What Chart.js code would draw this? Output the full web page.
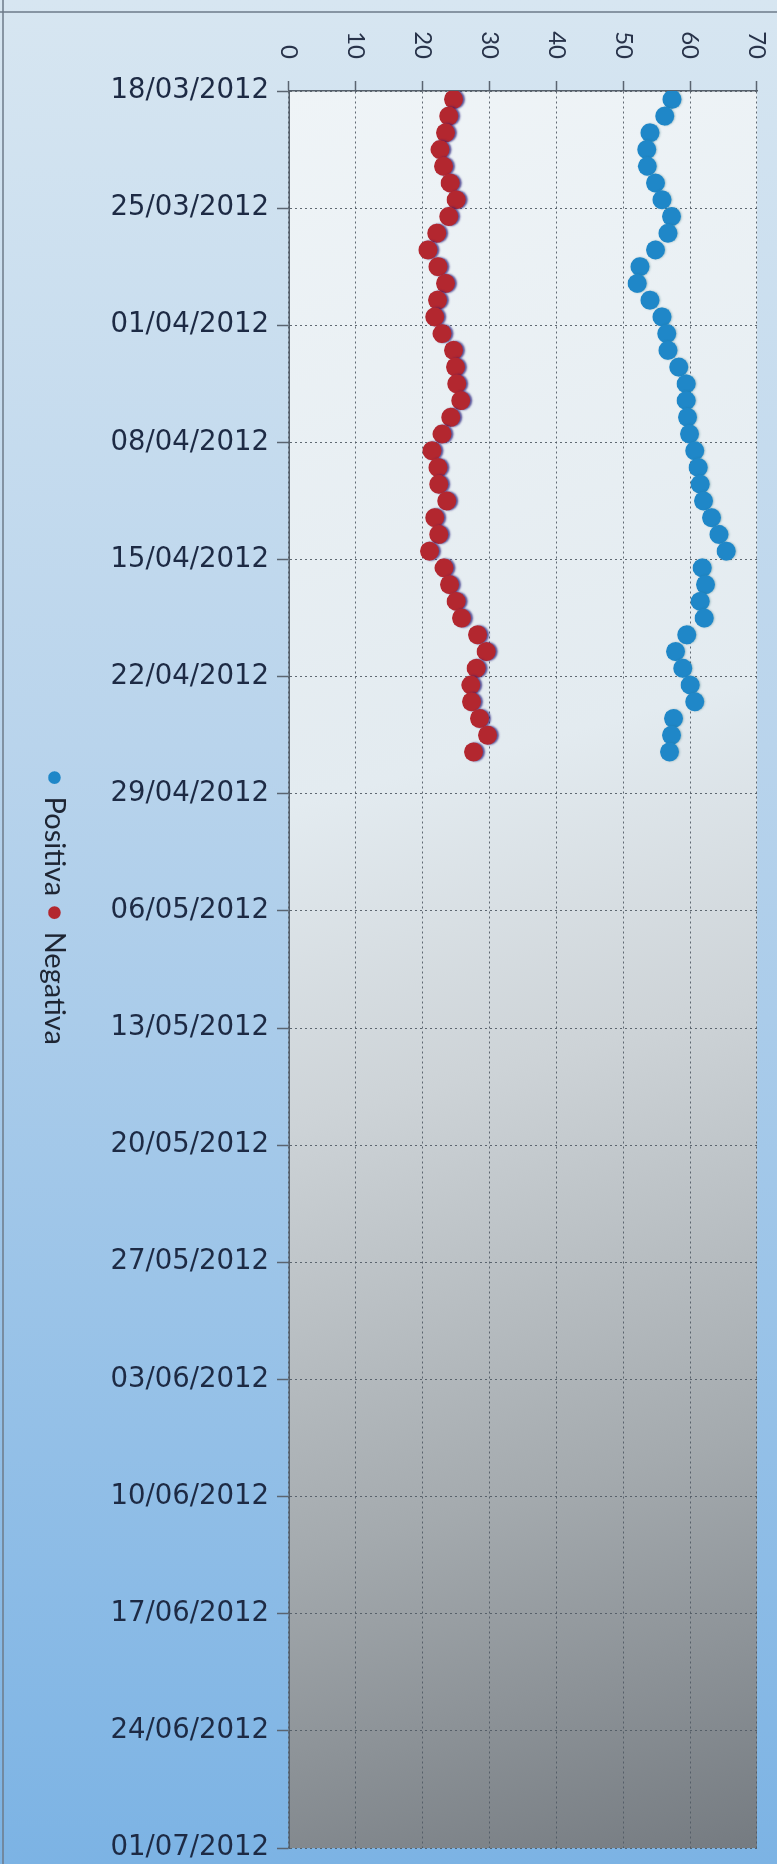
<!DOCTYPE html>
<html>
<head>
<meta charset="utf-8">
<script src="https://cdn.jsdelivr.net/npm/chart.js@4.4.1/dist/chart.umd.min.js"></script>
<style>
  html, body { margin: 0; padding: 0; width: 777px; height: 1864px; overflow: hidden; background: #b9d3ea; }
  #wrap { position: absolute; left: 0; top: 0; width: 1864px; height: 777px;
          transform-origin: 0 0; transform: translateX(777px) rotate(90deg); }
</style>
</head>
<body>
<div id="wrap"><canvas id="c" width="1864" height="777"></canvas></div>
<script>
// ---- data ----
const obsDates = [
  '18/03/2012','19/03/2012','20/03/2012','21/03/2012','22/03/2012','23/03/2012','24/03/2012',
  '25/03/2012','26/03/2012','27/03/2012','28/03/2012','29/03/2012','30/03/2012','31/03/2012',
  '01/04/2012','02/04/2012','03/04/2012','04/04/2012','05/04/2012','06/04/2012','07/04/2012',
  '08/04/2012','09/04/2012','10/04/2012','11/04/2012','12/04/2012','13/04/2012','14/04/2012',
  '15/04/2012','16/04/2012','17/04/2012','18/04/2012','19/04/2012','20/04/2012','21/04/2012',
  '22/04/2012','23/04/2012','24/04/2012','25/04/2012','26/04/2012'
];
const positiva = [57.3,56.2,54.0,53.5,53.6,54.8,55.8,57.2,56.7,54.8,
                  52.5,52.1,54.0,55.8,56.5,56.7,58.3,59.4,59.4,59.6,
                  59.9,60.7,61.2,61.5,62.0,63.2,64.3,65.4,61.8,62.3,
                  61.5,62.1,59.5,57.8,58.9,60.0,60.7,57.5,57.2,56.9];
const negativa = [24.6,23.9,23.4,22.6,23.1,24.1,25.0,23.9,22.1,20.8,
                  22.3,23.4,22.2,21.8,22.9,24.6,24.9,25.1,25.7,24.2,
                  22.9,21.4,22.3,22.4,23.6,21.8,22.4,21.0,23.2,24.0,
                  25.0,25.8,28.2,29.5,28.0,27.2,27.3,28.5,29.7,27.6];
const dateTicks = ['18/03/2012','25/03/2012','01/04/2012','08/04/2012','15/04/2012','22/04/2012',
  '29/04/2012','06/05/2012','13/05/2012','20/05/2012','27/05/2012','03/06/2012','10/06/2012',
  '17/06/2012','24/06/2012','01/07/2012'];
const valueTicks = [0,10,20,30,40,50,60,70];
const seriesNames = ['Positiva','Negativa'];

// ---- helpers ----
function parseDay(s) { const [d,m,y] = s.split('/').map(Number); return Date.UTC(y, m-1, d) / 86400000; }
const day0 = parseDay(dateTicks[0]);
const dayOf = s => parseDay(s) - day0;
const tickMap = {};
dateTicks.forEach(s => { tickMap[dayOf(s)] = s; });
const toPoints = vals => vals.map((v, i) => ({ x: dayOf(obsDates[i]) + 0.5, y: v }));

const bgPlugin = {
  id: 'bg',
  afterLayout(chart) {
    if (chart.legend) { chart.legend.left -= 15; chart.legend.right -= 15; }
  },
  beforeDraw(chart) {
    const { ctx, width, height, chartArea: a } = chart;
    ctx.save();
    let g = ctx.createLinearGradient(0, 0, width, 0);
    g.addColorStop(0, '#d7e6f1');
    g.addColorStop(0.4, '#b9d4ec');
    g.addColorStop(1, '#7cb3e4');
    ctx.fillStyle = g;
    ctx.fillRect(0, 0, width, height);
    let g2 = ctx.createLinearGradient(a.left, a.bottom, a.right, a.top);
    g2.addColorStop(0, '#eff4f7');
    g2.addColorStop(0.38, '#e3ebf0');
    g2.addColorStop(0.55, '#cdd3d7');
    g2.addColorStop(0.78, '#a4aaae');
    g2.addColorStop(1, '#757b81');
    ctx.fillStyle = g2;
    ctx.fillRect(a.left, a.top, a.right - a.left, a.bottom - a.top);
    ctx.strokeStyle = '#6d7b89';
    ctx.lineWidth = 1.5;
    ctx.beginPath();
    ctx.moveTo(12, 0); ctx.lineTo(12, height);
    ctx.moveTo(0, height - 3); ctx.lineTo(width, height - 3);
    ctx.stroke();
    ctx.restore();
  }
};
const shadowPlugin = {
  id: 'shadow',
  beforeDatasetDraw(chart, args) {
    const ctx = chart.ctx; ctx.save();
    if (args.index === 1) {
      ctx.shadowColor = 'rgba(40,30,120,0.75)'; ctx.shadowOffsetX = 0; ctx.shadowOffsetY = -2; ctx.shadowBlur = 2;
    } else {
      ctx.shadowColor = 'rgba(40,110,120,0.35)'; ctx.shadowOffsetX = 0; ctx.shadowOffsetY = -1; ctx.shadowBlur = 2;
    }
  },
  afterDatasetDraw(chart) { chart.ctx.restore(); }
};

new Chart(document.getElementById('c'), {
  type: 'scatter',
  data: {
    datasets: [
      { label: seriesNames[0], data: toPoints(positiva), backgroundColor: '#1f87c8', borderColor: '#1f87c8',
        pointRadius: 9.5, pointHoverRadius: 9.5, borderWidth: 0, showLine: false },
      { label: seriesNames[1], data: toPoints(negativa), backgroundColor: '#b3272f', borderColor: '#b3272f',
        pointRadius: 9.5, pointHoverRadius: 9.5, borderWidth: 0, showLine: false }
    ]
  },
  options: {
    responsive: false, animation: false, devicePixelRatio: 1,
    layout: { padding: { top: 20, right: 16, bottom: 30, left: 0 } },
    plugins: {
      tooltip: { enabled: false },
      legend: {
        position: 'bottom',
        labels: { usePointStyle: true, pointStyle: 'circle', boxWidth: 9, boxHeight: 9, padding: 12,
                  color: '#1e2533', font: { family: 'Lato', size: 29 } }
      }
    },
    scales: {
      x: {
        type: 'linear', position: 'bottom',
        min: dayOf(dateTicks[0]), max: dayOf(dateTicks[dateTicks.length - 1]),
        afterBuildTicks: s => { s.ticks = dateTicks.map(d => ({ value: dayOf(d) })); },
        afterFit: s => { s.height = 208; s.paddingLeft = 0; s.paddingRight = 0; },
        ticks: { autoSkip: false, maxRotation: 90, minRotation: 90, padding: 8,
                 color: '#1d2a44', font: { family: 'DejaVu Sans', size: 27.5 },
                 callback: v => tickMap[v] || '' },
        grid: { color: 'rgba(80,90,100,0.9)', lineWidth: 1, tickLength: 12, tickColor: '#5a6470', tickWidth: 1.5 },
        border: { color: '#56606b', width: 1.5, dash: [2, 3] }
      },
      y: {
        type: 'linear', position: 'left', min: 0, max: 70,
        afterBuildTicks: s => { s.ticks = valueTicks.map(v => ({ value: v })); },
        afterFit: s => { s.width = 91; s.paddingTop = 0; s.paddingBottom = 0; },
        ticks: { padding: 22, color: '#28334a', font: { family: 'Lato', size: 24 } },
        grid: { color: 'rgba(80,90,100,0.9)', lineWidth: 1, tickLength: 10, tickColor: '#5a6470', tickWidth: 1.5 },
        border: { color: '#56606b', width: 1.5, dash: [2, 3] }
      }
    }
  },
  plugins: [bgPlugin, shadowPlugin]
});
</script>
</body>
</html>
